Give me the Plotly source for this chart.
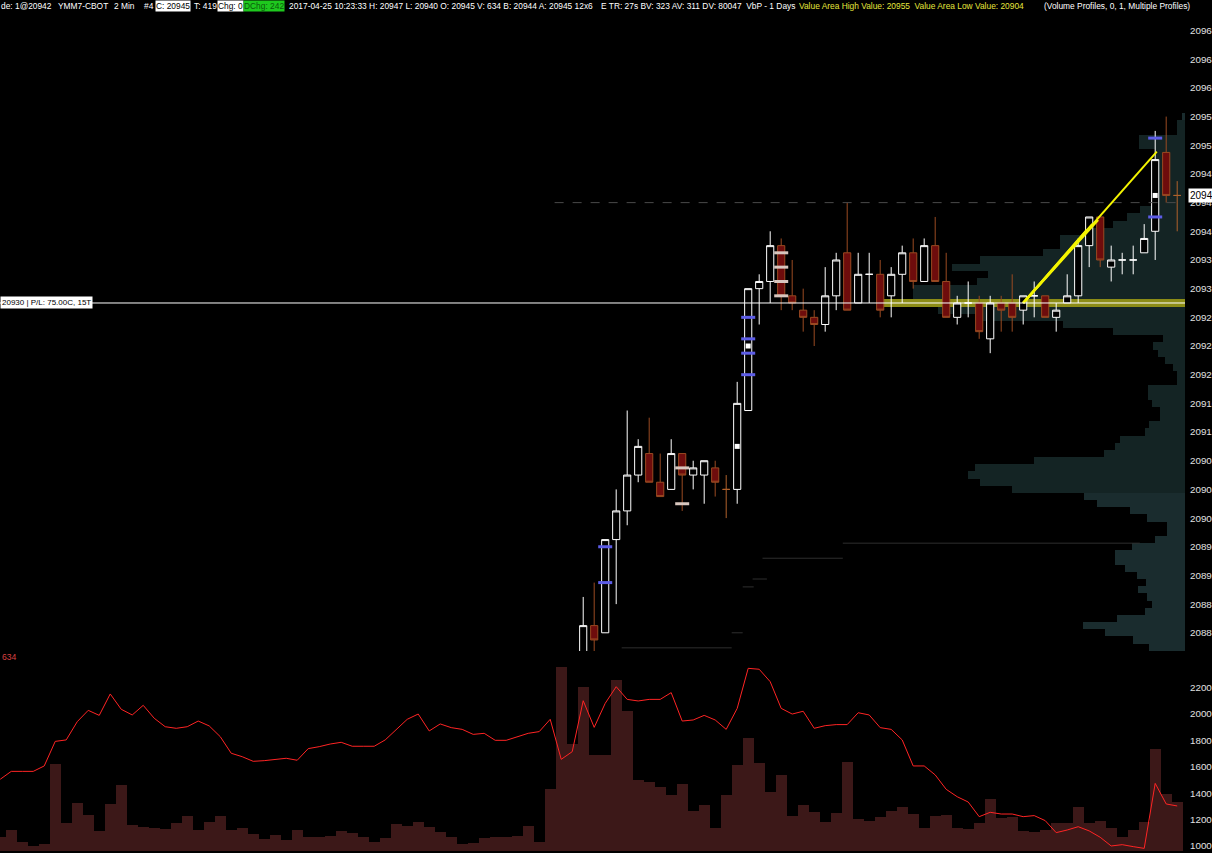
import plotly.graph_objects as go

# ---------------- data ----------------
bar_index = list(range(108))

volume = [1070, 1121, 1033, 1003, 1015, 1621, 1177, 1326, 1235, 1114,
          1318, 1462, 1159, 1146, 1134, 1126, 1174, 1227, 1121, 1182,
          1227, 1121, 1134, 1091, 1053, 1083, 1045, 1121, 1070, 1070,
          1078, 1114, 1096, 1066, 1030, 1058, 1167, 1154, 1182, 1144,
          1108, 1066, 1018, 1023, 1058, 1066, 1068, 1073, 1151, 1030,
          1432, 2355, 1772, 2204, 1689,
          1689, 2257, 2022, 1500, 1485, 1449, 1386, 1469, 1265, 1310,
          1134, 1386, 1613, 1815, 1626, 1409, 1537, 1230, 1310, 1257,
          1182, 1250, 1633, 1204, 1192, 1222, 1265, 1295, 1245, 1136,
          1230, 1235, 1139, 1131, 1177, 1354, 1214, 1222, 1114, 1108,
          1121, 1177, 1172, 1295, 1177, 1189, 1134, 1070, 1121, 1182,
          1734, 1394, 1333]

volume_ma = [1505, 1565, 1565, 1565, 1606, 1792, 1803, 1941, 2027, 1989,
             2151, 2035, 1992, 2065, 1967, 1903, 1891, 1903, 1946, 1909,
             1828, 1702, 1676, 1641, 1646, 1656, 1664, 1649, 1737, 1752,
             1772, 1785, 1755, 1755, 1755, 1803, 1878, 1959, 1999, 1871,
             1924, 1896, 1883, 1845, 1853, 1800, 1800, 1828, 1853, 1866,
             1959, 1656, 1714, 2100, 1898,
             2080, 2206, 2110, 2098, 2110, 2110, 2161, 1946, 1954, 1989,
             1954, 1883, 2042, 2345, 2338, 2244, 2042, 1999, 2020, 1891,
             1911, 1919, 1919, 2009, 1992, 1896, 1883, 1803, 1606, 1606,
             1538, 1429, 1373, 1333, 1222, 1255, 1242, 1242, 1222, 1230,
             1192, 1101, 1121, 1146, 1114, 1066, 1000, 1010, 995, 982,
             1474, 1318, 1303]

candle_index = list(range(53, 108))
opens = [20881, 20885, 20884, 20897, 20901, 20906, 20909, 20905, 20904, 20909,
         20906, 20906, 20907, 20904, 20904, 20915, 20932, 20933, 20938, 20931,
         20929, 20928, 20927, 20931, 20937, 20930, 20934, 20934, 20931, 20934,
         20937, 20933, 20938, 20933, 20928, 20930, 20930, 20925, 20930, 20930,
         20929, 20931, 20931, 20928, 20930, 20931, 20938, 20942, 20935, 20936,
         20936, 20937, 20940, 20951, 20945]
highs = [20889, 20891, 20897, 20904, 20915, 20911, 20914, 20909, 20911, 20909,
         20908, 20908, 20908, 20906, 20919, 20932, 20934, 20940, 20939, 20936,
         20932, 20929, 20935, 20937, 20944, 20937, 20937, 20936, 20935, 20938,
         20939, 20939, 20942, 20937, 20931, 20933, 20931, 20931, 20931, 20934,
         20931, 20933, 20931, 20930, 20934, 20939, 20942, 20942, 20938, 20937,
         20938, 20941, 20954, 20956, 20947]
lows = [20878, 20879, 20884, 20888, 20899, 20905, 20905, 20903, 20904, 20901,
        20904, 20902, 20903, 20900, 20902, 20915, 20927, 20930, 20929, 20929,
        20926, 20924, 20926, 20929, 20929, 20930, 20930, 20928, 20928, 20930,
        20932, 20933, 20933, 20928, 20927, 20928, 20925, 20923, 20926, 20926,
        20927, 20928, 20928, 20926, 20930, 20930, 20935, 20935, 20933, 20934,
        20934, 20937, 20936, 20944, 20940]
closes = [20885, 20883, 20897, 20901, 20906, 20910, 20905, 20903, 20909, 20906,
          20907, 20908, 20905, 20904, 20916, 20932, 20933, 20938, 20931, 20930,
          20928, 20927, 20931, 20936, 20929, 20934, 20934, 20929, 20934, 20937,
          20933, 20938, 20933, 20928, 20930, 20930, 20926, 20930, 20929, 20928,
          20931, 20931, 20928, 20929, 20931, 20938, 20942, 20936, 20936, 20936,
          20936, 20939, 20950, 20945, 20945]
candle_style = ['w', 'r', 'w', 'w', 'w', 'w', 'r', 'r', 'w', 'r',
                'w', 'w', 'r', 'o', 'w', 'w', 'w', 'w', 'r', 'r',
                'r', 'r', 'w', 'w', 'r', 'w', 'w', 'r', 'w', 'w',
                'r', 'w', 'r', 'r', 'w', 'w', 'r', 'w', 'r', 'r',
                'w', 'w', 'r', 'w', 'w', 'w', 'w', 'r', 'w', 'w',
                'w', 'w', 'w', 'r', 'o']

profile_prices = list(range(20956, 20881, -1))
profile_volume = [3, 8, 8, 46, 46, 30, 30, 30, 32, 32,
                  32, 32, 32, 45, 58, 72, 92, 125, 125, 142,
                  205, 233, 197, 208, 272, 272, 305, 247, 205, 122,
                  72, 22, 32, 27, 20, 12, 8, 8, 37, 37,
                  33, 25, 25, 36, 40, 65, 70, 81, 151, 210,
                  217, 205, 173, 101, 88, 55, 38, 18, 18, 30,
                  53, 70, 70, 60, 48, 39, 47, 38, 33, 40,
                  68, 102, 80, 52, 36]
poc_price = 20930
va_high = 20955
va_low = 20904
profile_scale = 1 / 11.0   # bar-slots per unit of profile volume

position_price = 20930
prior_level = 20944
prior_level_span = [50.4, 107.6]
last_price = 20945
last_volume = 634

price_ticks = list(range(20884, 20969, 4))
volume_ticks = list(range(1000, 2201, 200))

blue_marks_x = [55, 55, 68, 68, 68, 68, 105, 105]
blue_marks_p = [20896, 20891, 20928, 20925, 20923, 20920, 20953, 20942]
gray_marks_x = [62, 62, 71, 71, 71, 71]
gray_marks_p = [20907, 20902, 20937, 20935, 20933, 20931]
white_dots_x = [67, 68, 105]
white_dots_p = [20910, 20924, 20945]

trend_start = (93.0, 20930.0)
trend_ends = [(105.15, 20951.1), (98.8, 20940.2), (99.3, 20941.0), (99.8, 20941.6)]
trend_widths = [2, 2.5, 2.5, 2.5]

prior_profile_p = [20896.5, 20894.4, 20891.5, 20890.4, 20884.0, 20881.9]
prior_profile_k0 = [76.6, 69.3, 68.4, 67.5, 66.5, 56.5]
prior_profile_k1 = [103.6, 76.6, 69.7, 68.5, 67.5, 66.5]

x_range = [-0.02, 107.71]

# ---------------- figure ----------------
fig = go.Figure()

def prof(sel):
    idx = [i for i, p in enumerate(profile_prices) if sel(p)]
    return [-profile_volume[i] * profile_scale for i in idx], [profile_prices[i] for i in idx]

for sel, col in [(lambda p: va_low <= p <= va_high and p != poc_price, '#142424'),
                 (lambda p: p < va_low or p > va_high, '#1a2c2e'),
                 (lambda p: p == poc_price, '#8c8c16')]:
    xs, ys = prof(sel)
    fig.add_trace(go.Bar(x=xs, y=ys, base=x_range[1], orientation='h', width=1,
                         xaxis='x', yaxis='y',
                         marker=dict(color=col, line=dict(width=0)), hoverinfo='skip'))

for p, a, b in zip(prior_profile_p, prior_profile_k0, prior_profile_k1):
    fig.add_trace(go.Scatter(x=[a, b], y=[p, p], mode='lines', xaxis='x', yaxis='y',
                             line=dict(color='#2e2e2e', width=1), hoverinfo='skip'))

fig.add_trace(go.Scatter(x=prior_level_span, y=[prior_level, prior_level], mode='lines',
                         xaxis='x', yaxis='y', line=dict(color='#4a4a4a', width=1, dash='dash'),
                         hoverinfo='skip'))

styles = {
    'w': dict(line='#ffffff', fill='#000000'),
    'r': dict(line='#9a4a22', fill='#6e0c0c'),
    'o': dict(line='#b0622c', fill='#b0622c'),
}
for key, st in styles.items():
    idx = [i for i, s in enumerate(candle_style) if s == key]
    spec = dict(line=dict(color=st['line'], width=1), fillcolor=st['fill'])
    fig.add_trace(go.Candlestick(
        x=[candle_index[i] for i in idx],
        open=[opens[i] for i in idx], high=[highs[i] for i in idx],
        low=[lows[i] for i in idx], close=[closes[i] for i in idx],
        increasing=spec, decreasing=spec, whiskerwidth=0,
        xaxis='x', yaxis='y', hoverinfo='skip'))

fig.add_trace(go.Scatter(x=blue_marks_x, y=blue_marks_p, mode='markers', xaxis='x', yaxis='y',
                         marker=dict(symbol='line-ew', size=10, line=dict(color='#5c5ce6', width=3)),
                         hoverinfo='skip'))
fig.add_trace(go.Scatter(x=gray_marks_x, y=gray_marks_p, mode='markers', xaxis='x', yaxis='y',
                         marker=dict(symbol='line-ew', size=10, line=dict(color='#d8c6be', width=3)),
                         hoverinfo='skip'))
fig.add_trace(go.Scatter(x=white_dots_x, y=white_dots_p, mode='markers', xaxis='x', yaxis='y',
                         marker=dict(symbol='square', size=5, color='#ffffff', line=dict(width=0)),
                         hoverinfo='skip'))

for (ex, ey), w in zip(trend_ends, trend_widths):
    fig.add_trace(go.Scatter(x=[trend_start[0], ex], y=[trend_start[1], ey], mode='lines',
                             xaxis='x', yaxis='y', line=dict(color='#f4f400', width=w),
                             hoverinfo='skip'))

fig.add_trace(go.Bar(x=bar_index, y=volume, width=1, xaxis='x', yaxis='y2',
                     marker=dict(color='#3c1818', line=dict(width=0)), hoverinfo='skip'))
fig.add_trace(go.Scatter(x=bar_index, y=volume_ma, mode='lines', xaxis='x', yaxis='y2',
                         line=dict(color='#ff2424', width=1), hoverinfo='skip'))

H = 853.0
font = 'Liberation Sans'
fig.update_layout(
    width=1212, height=853, margin=dict(l=0, r=27, t=0, b=0, autoexpand=False),
    paper_bgcolor='#000000', plot_bgcolor='#000000', showlegend=False,
    barmode='overlay', bargap=0, boxgap=0.35, boxgroupgap=0,
    font=dict(family=font, color='#e8e8e8', size=9),
    xaxis=dict(domain=[0, 1], range=x_range, visible=False,
               rangeslider=dict(visible=False), fixedrange=True),
    yaxis=dict(domain=[1 - 651 / H, 1 - 18 / H], range=[20881.46, 20969.75], side='right',
               anchor='x', tickvals=price_ticks, ticktext=[str(t) for t in price_ticks],
               tickfont=dict(family=font, size=9.8, color='#e0e0e0'), showgrid=False,
               zeroline=False, showline=False, ticks='', ticklabelstandoff=4,
               automargin=False, fixedrange=True),
    yaxis2=dict(domain=[1 - 851 / H, 1 - 655 / H], range=[962, 2446], side='right',
                anchor='x', tickvals=volume_ticks, ticktext=[str(t) for t in volume_ticks],
                tickfont=dict(family=font, size=9.8, color='#e0e0e0'), showgrid=False,
                zeroline=False, showline=False, ticks='', ticklabelstandoff=4,
                automargin=False, fixedrange=True),
)

fig.add_shape(type='line', xref='paper', yref='y', x0=0, x1=1, y0=position_price, y1=position_price,
              line=dict(color='#ffffff', width=1), layer='above')

ann = []
def px(x):
    return x / 1185.0

header_y = 1 - 6 / H
header = [
    (0, 'de: 1@20942', '#ffffff', None),
    (57, 'YMM7-CBOT', '#ffffff', None),
    (113, '2 Min', '#ffffff', None),
    (143, '#4', '#ffffff', None),
    (155, 'C: 20945', '#000000', '#ffffff'),
    (193, 'T: 419', '#ffffff', None),
    (217, 'Chg: 0', '#000000', '#ffffff'),
    (243, 'DChg: 242', '#0a5a0a', '#1ec81e'),
    (288, '2017-04-25 10:23:33 H: 20947 L: 20940 O: 20945 V: 634 B: 20944 A: 20945 12x6', '#ffffff', None),
    (600, 'E TR: 27s BV: 323 AV: 311 DV: 80047  VbP - 1 Days', '#ffffff', None),
    (798, 'Value Area High Value: 20955  Value Area Low Value: 20904', '#e6e63c', None),
    (1043, '(Volume Profiles, 0, 1, Multiple Profiles)', '#ffffff', None),
]
for x, t, c, bg in header:
    a = dict(xref='paper', yref='paper', x=px(x), y=header_y, xanchor='left', yanchor='middle',
             text=t, showarrow=False, font=dict(family=font, size=8.4, color=c), borderpad=0)
    if bg:
        a['bgcolor'] = bg
    ann.append(a)

ann.append(dict(xref='paper', yref='y', x=0, y=position_price, xanchor='left', yanchor='middle',
                text='%d | P/L: 75.00C, 15T' % position_price, showarrow=False, bgcolor='#ffffff',
                font=dict(family=font, size=8, color='#000000'), borderpad=1))
ann.append(dict(xref='paper', yref='y', x=1, xshift=3, y=last_price, xanchor='left', yanchor='middle',
                text=str(last_price), showarrow=False, bgcolor='#ffffff',
                font=dict(family=font, size=10, color='#000000'), borderpad=1))
ann.append(dict(xref='paper', yref='paper', x=0, y=1 - 657 / H, xanchor='left', yanchor='middle',
                text=str(last_volume), showarrow=False,
                font=dict(family=font, size=8.6, color='#d84040')))
fig.update_layout(annotations=ann)

fig.write_html('out.html', config={'displayModeBar': False},
               post_script="document.body.style.margin='0px';document.body.style.padding='0px';")
